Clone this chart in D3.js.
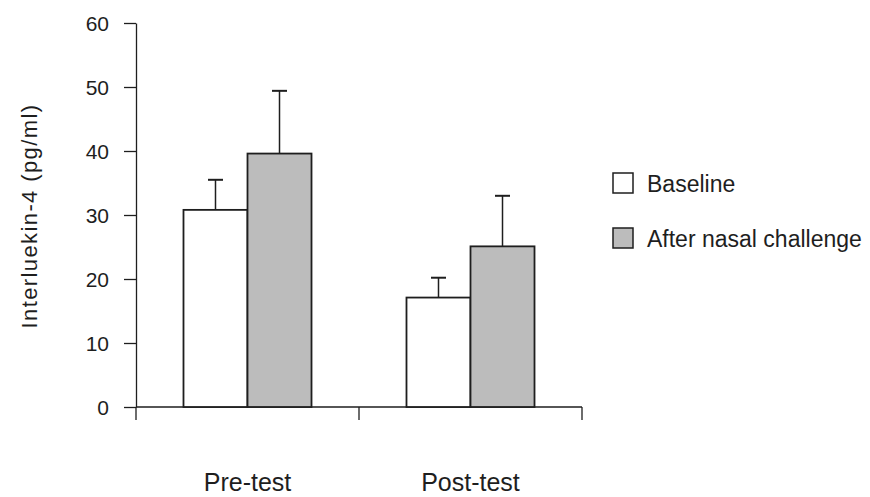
<!DOCTYPE html>
<html>
<head>
<meta charset="utf-8">
<script src="https://cdn.jsdelivr.net/npm/d3@7"></script>
<style>
  html, body { margin: 0; padding: 0; background: #fff; }
  svg { display: block; }
  text { font-family: "Liberation Sans", Arial, sans-serif; fill: #1e1e1e; }
</style>
</head>
<body>
<svg id="chart" width="870" height="497"></svg>
<script>
const categories = ["Pre-test", "Post-test"];
const seriesNames = ["Baseline", "After nasal challenge"];
const baselineMeans = [30.8, 17.1];
const baselineErrors = [4.7, 3.1];
const challengeMeans = [39.6, 25.1];
const challengeErrors = [9.8, 7.9];
const yTicks = [0, 10, 20, 30, 40, 50, 60];
const seriesFills = ["#ffffff", "#bcbcbc"];

const svg = d3.select("#chart");
const ink = "#1e1e1e";

const y = d3.scaleLinear().domain([0, 60]).range([407, 23]);
const x0 = d3.scaleBand().domain(categories).range([136, 582]).paddingInner(0).paddingOuter(0);
const x1 = d3.scaleBand().domain(seriesNames).range([0, x0.bandwidth()]).paddingInner(0).paddingOuter(0.742);

const data = categories.map((c, i) => ({
  cat: c,
  values: [
    { s: seriesNames[0], v: baselineMeans[i], e: baselineErrors[i], fill: seriesFills[0] },
    { s: seriesNames[1], v: challengeMeans[i], e: challengeErrors[i], fill: seriesFills[1] }
  ]
}));

// Y axis
const yAxis = d3.axisLeft(y).tickValues(yTicks).tickSize(12).tickSizeOuter(0).tickPadding(15);
const gy = svg.append("g").attr("transform", "translate(136,0)").call(yAxis);
gy.select(".domain").attr("stroke", ink).attr("stroke-width", 1.3);
gy.selectAll(".tick line").attr("stroke", ink).attr("stroke-width", 1.3);
gy.selectAll(".tick text").style("font-size", "21px").style("font-family", "'Liberation Sans', Arial, sans-serif").attr("fill", ink).attr("dy", "0.36em");

// X axis baseline and boundary ticks
const boundaries = categories.map(c => x0(c)).concat([x0(categories[categories.length - 1]) + x0.bandwidth()]);
svg.append("line").attr("x1", 136).attr("x2", boundaries[boundaries.length - 1])
  .attr("y1", y(0)).attr("y2", y(0)).attr("stroke", ink).attr("stroke-width", 1.3);
svg.selectAll(".xb").data(boundaries).enter().append("line")
  .attr("x1", d => d).attr("x2", d => d)
  .attr("y1", y(0)).attr("y2", y(0) + 13)
  .attr("stroke", ink).attr("stroke-width", 1.3);

// Category labels
svg.selectAll(".xl").data(categories).enter().append("text")
  .attr("x", d => x0(d) + x0.bandwidth() / 2)
  .attr("y", 491)
  .attr("text-anchor", "middle")
  .style("font-size", "25px")
  .text(d => d);

// Bars
const groups = svg.selectAll(".grp").data(data).enter().append("g")
  .attr("transform", d => `translate(${x0(d.cat)},0)`);

groups.selectAll("rect").data(d => d.values).enter().append("rect")
  .attr("x", d => x1(d.s))
  .attr("y", d => y(d.v))
  .attr("width", x1.bandwidth())
  .attr("height", d => y(0) - y(d.v))
  .attr("fill", d => d.fill)
  .attr("stroke", ink)
  .attr("stroke-width", 1.8);

// Error bars (upper only)
groups.selectAll(".err").data(d => d.values).enter().append("line")
  .attr("x1", d => x1(d.s) + x1.bandwidth() / 2)
  .attr("x2", d => x1(d.s) + x1.bandwidth() / 2)
  .attr("y1", d => y(d.v))
  .attr("y2", d => y(d.v + d.e))
  .attr("stroke", ink).attr("stroke-width", 1.5);
groups.selectAll(".cap").data(d => d.values).enter().append("line")
  .attr("x1", d => x1(d.s) + x1.bandwidth() / 2 - 7.5)
  .attr("x2", d => x1(d.s) + x1.bandwidth() / 2 + 7.5)
  .attr("y1", d => y(d.v + d.e))
  .attr("y2", d => y(d.v + d.e))
  .attr("stroke", ink).attr("stroke-width", 2);

// Y axis title
svg.append("text")
  .attr("transform", "translate(37,216) rotate(-90)")
  .attr("text-anchor", "middle")
  .style("font-size", "22px")
  .style("letter-spacing", "1.4px")
  .text("Interluekin-4 (pg/ml)");

// Legend
const legend = svg.selectAll(".leg").data(seriesNames).enter().append("g")
  .attr("transform", (d, i) => `translate(613,${173 + i * 55})`);
legend.append("rect").attr("width", 20).attr("height", 20)
  .attr("fill", (d, i) => seriesFills[i]).attr("stroke", ink).attr("stroke-width", 1.5);
legend.append("text").attr("x", 34).attr("y", 18.5)
  .style("font-size", "23px")
  .text(d => d);
</script>
</body>
</html>
